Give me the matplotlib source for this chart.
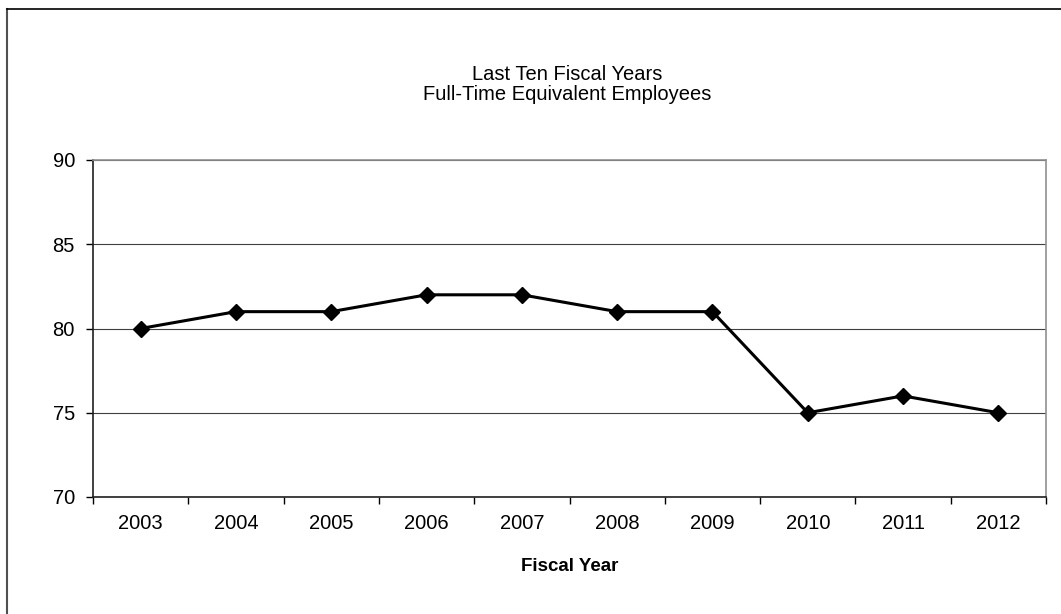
import numpy as np
import matplotlib.pyplot as plt
from matplotlib.lines import Line2D

plt.rcParams['font.family'] = ['Liberation Sans', 'DejaVu Sans']

# data
years = ['2003', '2004', '2005', '2006', '2007', '2008', '2009', '2010', '2011', '2012']
employees = [80, 81, 81, 82, 82, 81, 81, 75, 76, 75]
y_ticks = [70, 75, 80, 85, 90]

fig = plt.figure(figsize=(10.61, 6.14), dpi=100)
ax = fig.add_axes([93 / 1061, 1 - 497 / 614, (1046 - 93) / 1061, (497 - 160) / 614])

x = np.arange(len(years))
ax.plot(x, employees, color='black', linewidth=2.2, marker='D', markersize=8.5, zorder=3)

ax.set_xlim(-0.5, len(years) - 0.5)
ax.set_ylim(70, 90)
ax.set_yticks(y_ticks)
ax.set_yticklabels([str(v) for v in y_ticks], fontsize=14.5)

# category labels centered, tick marks between categories
ax.set_xticks(np.arange(len(years) + 1) - 0.5)
ax.set_xticklabels([])
ax.set_xticks(x, minor=True)
ax.set_xticklabels(years, minor=True, fontsize=14.5)
ax.tick_params(axis='x', which='minor', length=0, pad=12)
ax.tick_params(axis='x', which='major', length=5, width=1, direction='out')
ax.tick_params(axis='y', length=5, width=1, direction='out', pad=8)

ax.grid(axis='y', color='#404040', linewidth=0.8)
ax.set_axisbelow(True)
for s in ['left', 'bottom']:
    ax.spines[s].set_color('#202020')
    ax.spines[s].set_linewidth(1.2)
for s in ['top', 'right']:
    ax.spines[s].set_color('#909090')
    ax.spines[s].set_linewidth(1.2)

ax.set_xlabel('Fiscal Year', fontsize=13.5, fontweight='bold', labelpad=18)
fig.text(0.535, 1 - 75 / 614, 'Last Ten Fiscal Years', ha='center', va='center', fontsize=14.5)
fig.text(0.535, 1 - 95 / 614, 'Full-Time Equivalent Employees', ha='center', va='center', fontsize=14.5)

# outer frame (only top and left visible)
fig.add_artist(Line2D([7 / 1061, 7 / 1061], [0, 1 - 9 / 614], transform=fig.transFigure,
                      color='#505050', linewidth=1.5))
fig.add_artist(Line2D([7 / 1061, 1], [1 - 9 / 614, 1 - 9 / 614], transform=fig.transFigure,
                      color='black', linewidth=1.2))

plt.savefig('out.png', dpi=100)
